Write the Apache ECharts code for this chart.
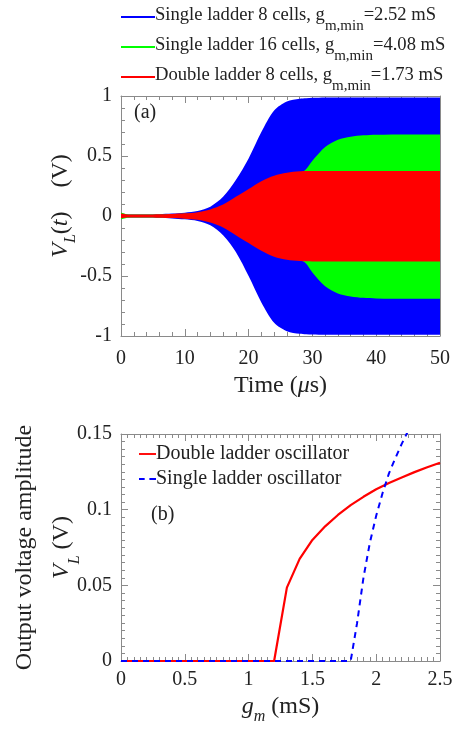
<!DOCTYPE html>
<html>
<head>
<meta charset="utf-8">
<script src="https://cdn.jsdelivr.net/npm/echarts@6/dist/echarts.min.js"></script>
<style>
html,body{margin:0;padding:0;background:#fff;}
#chart{width:460px;height:729px;}
</style>
</head>
<body>
<div id="chart"></div>
<script>
// ---- Panel (a): envelope of V_L(t) ----
const timeUs = [0, 1, 2, 4, 6, 8, 10, 12, 14, 16, 18, 20, 22, 24, 26, 28, 29, 30, 32, 34, 36, 38, 40, 45, 50];
const blueUpper = [0.015, 0.012, 0.012, 0.013, 0.015, 0.02, 0.028, 0.042, 0.078, 0.16, 0.3, 0.48, 0.7, 0.88, 0.955, 0.978, 0.982, 0.985, 0.988, 0.988, 0.988, 0.988, 0.988, 0.988, 0.988];
const blueLower = [-0.015, -0.012, -0.012, -0.013, -0.015, -0.02, -0.028, -0.042, -0.078, -0.16, -0.3, -0.5, -0.72, -0.89, -0.96, -0.982, -0.986, -0.988, -0.99, -0.99, -0.99, -0.99, -0.99, -0.99, -0.99];
const greenUpper = [0.03, 0.015, 0.012, 0.012, 0.013, 0.015, 0.018, 0.025, 0.04, 0.065, 0.1, 0.15, 0.2, 0.26, 0.31, 0.355, 0.39, 0.46, 0.575, 0.635, 0.66, 0.672, 0.677, 0.68, 0.68];
const greenLower = [-0.03, -0.015, -0.012, -0.012, -0.013, -0.015, -0.018, -0.025, -0.04, -0.065, -0.1, -0.15, -0.2, -0.26, -0.31, -0.36, -0.395, -0.47, -0.585, -0.645, -0.67, -0.682, -0.687, -0.69, -0.69];
const redUpper = [0.02, 0.013, 0.012, 0.012, 0.014, 0.017, 0.022, 0.032, 0.055, 0.095, 0.16, 0.225, 0.29, 0.335, 0.36, 0.372, 0.374, 0.375, 0.376, 0.376, 0.376, 0.376, 0.376, 0.376, 0.376];
const redLower = [-0.02, -0.013, -0.012, -0.012, -0.014, -0.017, -0.022, -0.032, -0.055, -0.095, -0.16, -0.225, -0.29, -0.34, -0.365, -0.376, -0.378, -0.379, -0.38, -0.38, -0.38, -0.38, -0.38, -0.38, -0.38];
const legendA = ['Single ladder 8 cells', 'Single ladder 16 cells', 'Double ladder 8 cells'];
const gmMinA = ['2.52', '4.08', '1.73'];

// ---- Panel (b): amplitude vs g_m ----
const gmDouble = [0, 0.5, 1.0, 1.2, 1.3, 1.4, 1.5, 1.6, 1.7, 1.8, 1.9, 2.0, 2.1, 2.2, 2.3, 2.4, 2.5];
const ampDouble = [0, 0, 0, 0, 0.0485, 0.0675, 0.08, 0.089, 0.0965, 0.103, 0.1085, 0.1135, 0.1176, 0.1213, 0.1248, 0.128, 0.131];
const gmSingle = [0, 0.5, 1.0, 1.5, 1.8, 1.85, 1.9, 1.95, 2.0, 2.05, 2.1, 2.15, 2.2, 2.25];
const ampSingle = [0, 0, 0, 0, 0, 0.025, 0.055, 0.078, 0.096, 0.111, 0.124, 0.134, 0.1435, 0.152];
const legendB = ['Double ladder oscillator', 'Single ladder oscillator'];

const FONT = 'Liberation Serif';
const TXT = '#222';
const AX = '#8a8a8a';
const zip = (xs, ys) => xs.map((x, i) => [x, ys[i]]);

const richBase = {
  n: {fontFamily: FONT, fontSize: 24, color: TXT, lineHeight: 26, verticalAlign: 'top'},
  i: {fontFamily: FONT, fontSize: 24, fontStyle: 'italic', color: TXT, lineHeight: 26, verticalAlign: 'top'},
  s: {fontFamily: FONT, fontSize: 16, fontStyle: 'italic', color: TXT, lineHeight: 16, padding: [14, 0, 0, 0], verticalAlign: 'top'}
};

function axisCommon(extra) {
  return Object.assign({
    nameMoveOverlap: false,
    axisLine: {show: true, onZero: false, lineStyle: {color: AX, width: 1}},
    axisTick: {show: true, inside: true, length: 7, lineStyle: {color: AX}},
    minorTick: {show: true, length: 4, lineStyle: {color: AX}},
    splitLine: {show: false},
    axisLabel: {fontFamily: FONT, fontSize: 20, color: TXT, margin: 9}
  }, extra);
}

function areaSeries(name, color, data) {
  return {
    name: name, type: 'line', xAxisIndex: 0, yAxisIndex: 0,
    data: data, smooth: 0.3, symbol: 'none', showSymbol: false,
    itemStyle: {color: color},
    lineStyle: {color: color, width: 0, opacity: 0},
    areaStyle: {color: color, opacity: 1, origin: 0},
    silent: true, animation: false
  };
}

const colorsA = ['#0000ff', '#00ff00', '#ff0000'];

const legends = legendA.map((nm, k) => ({
  show: true, orient: 'horizontal', left: 116, top: 1 + k * 30,
  data: [{name: nm, icon: 'rect'}],
  itemWidth: 34, itemHeight: 2, itemGap: 0,
  selectedMode: false,
  formatter: function (name) {
    return '{t|' + name + ', g}{s|m,min}{t|=' + gmMinA[k] + ' mS}';
  },
  textStyle: {
    padding: [0, 0, 0, -5],
    rich: {
      t: {fontFamily: FONT, fontSize: 18.6, color: TXT, lineHeight: 22, verticalAlign: 'top'},
      s: {fontFamily: FONT, fontSize: 15, color: TXT, lineHeight: 15, padding: [13, 0, 0, 0], verticalAlign: 'top'}
    }
  }
}));

legends.push({
  show: true, orient: 'vertical', left: 134, top: 438,
  data: [
    {name: legendB[0], icon: 'path://M0,0h18v2h-18z'},
    {name: legendB[1], icon: 'path://M0,0h6v2h-6z M11,0h7v2h-7z'}
  ],
  itemWidth: 17, itemHeight: 2.2, itemGap: 3,
  selectedMode: false,
  textStyle: {fontFamily: FONT, fontSize: 20, color: TXT, lineHeight: 22, padding: [0, 0, 0, -5]}
});

const option = {
  animation: false,
  backgroundColor: '#fff',
  grid: [
    {left: 121, top: 96, width: 319, height: 240, outerBoundsMode: 'none', containLabel: false},
    {left: 121, top: 434, width: 319, height: 227, outerBoundsMode: 'none', containLabel: false}
  ],
  legend: legends,
  xAxis: [
    axisCommon({gridIndex: 0, type: 'value', min: 0, max: 50, interval: 10, position: 'bottom',
      minorTick: {show: true, splitNumber: 5, length: 4, lineStyle: {color: AX}},
      axisLabel: {fontFamily: FONT, fontSize: 20, color: TXT, margin: 13},
      name: '{n|Time (}{i|\u03bc}{n|s)}', nameLocation: 'middle', nameGap: 38,
      nameTextStyle: {rich: richBase}}),
    axisCommon({gridIndex: 0, type: 'value', min: 0, max: 50, interval: 10, position: 'top',
      minorTick: {show: true, splitNumber: 5, length: 4, lineStyle: {color: AX}},
      axisLabel: {show: false}}),
    axisCommon({gridIndex: 1, type: 'value', min: 0, max: 2.5, interval: 0.5, position: 'bottom',
      minorTick: {show: true, splitNumber: 10, length: 4, lineStyle: {color: AX}},
      name: '{i|g}{s|m}{n| (mS)}', nameLocation: 'middle', nameGap: 34,
      nameTextStyle: {rich: richBase}}),
    axisCommon({gridIndex: 1, type: 'value', min: 0, max: 2.5, interval: 0.5, position: 'top',
      minorTick: {show: true, splitNumber: 10, length: 4, lineStyle: {color: AX}},
      axisLabel: {show: false}})
  ],
  yAxis: [
    axisCommon({gridIndex: 0, type: 'value', min: -1, max: 1, interval: 0.5, position: 'left',
      minorTick: {show: true, splitNumber: 5, length: 4, lineStyle: {color: AX}},
      name: '{i|V}{s|L}{n|(}{i|t}{n|)    (V)}', nameLocation: 'middle', nameGap: 46, nameRotate: 90,
      nameTextStyle: {rich: richBase, padding: [0, 0, 0, 20]}}),
    axisCommon({gridIndex: 0, type: 'value', min: -1, max: 1, interval: 0.5, position: 'right',
      minorTick: {show: true, splitNumber: 5, length: 4, lineStyle: {color: AX}},
      axisLabel: {show: false}}),
    axisCommon({gridIndex: 1, type: 'value', min: 0, max: 0.15, interval: 0.05, position: 'left',
      minorTick: {show: true, splitNumber: 10, length: 4, lineStyle: {color: AX}},
      name: '{n|Output voltage amplitude}\n{i|V}{s|L}{n| (V)}', nameLocation: 'middle', nameGap: 34, nameRotate: 90,
      nameTextStyle: {rich: {
        n: {fontFamily: FONT, fontSize: 24, color: TXT, lineHeight: 37, verticalAlign: 'top'},
        i: {fontFamily: FONT, fontSize: 24, fontStyle: 'italic', color: TXT, lineHeight: 37, verticalAlign: 'top'},
        s: {fontFamily: FONT, fontSize: 16, fontStyle: 'italic', color: TXT, lineHeight: 16, padding: [17, 0, 0, 0], verticalAlign: 'top'}
      }}}),
    axisCommon({gridIndex: 1, type: 'value', min: 0, max: 0.15, interval: 0.05, position: 'right',
      minorTick: {show: true, splitNumber: 10, length: 4, lineStyle: {color: AX}},
      axisLabel: {show: false}})
  ],
  graphic: [
    {type: 'text', left: 134, top: 103, style: {text: '(a)', fontFamily: FONT, fontSize: 20, fill: TXT}},
    {type: 'text', left: 151, top: 505, style: {text: '(b)', fontFamily: FONT, fontSize: 20, fill: TXT}}
  ],
  series: [
    areaSeries(legendA[0], colorsA[0], zip(timeUs, blueUpper)),
    areaSeries(legendA[0], colorsA[0], zip(timeUs, blueLower)),
    areaSeries(legendA[1], colorsA[1], zip(timeUs, greenUpper)),
    areaSeries(legendA[1], colorsA[1], zip(timeUs, greenLower)),
    areaSeries(legendA[2], colorsA[2], zip(timeUs, redUpper)),
    areaSeries(legendA[2], colorsA[2], zip(timeUs, redLower)),
    {
      name: legendB[0], type: 'line', xAxisIndex: 2, yAxisIndex: 2,
      data: zip(gmDouble, ampDouble), symbol: 'none', showSymbol: false,
      itemStyle: {color: '#ff0000'}, lineStyle: {color: '#ff0000', width: 2.2}, z: 3
    },
    {
      name: legendB[1], type: 'line', xAxisIndex: 2, yAxisIndex: 2,
      data: zip(gmSingle, ampSingle), symbol: 'none', showSymbol: false,
      itemStyle: {color: '#0000ff'}, lineStyle: {color: '#0000ff', width: 2, type: [6, 5]}, z: 4
    }
  ]
};

const chart = echarts.init(document.getElementById('chart'), null, {renderer: 'canvas'});
chart.setOption(option);
</script>
</body>
</html>
